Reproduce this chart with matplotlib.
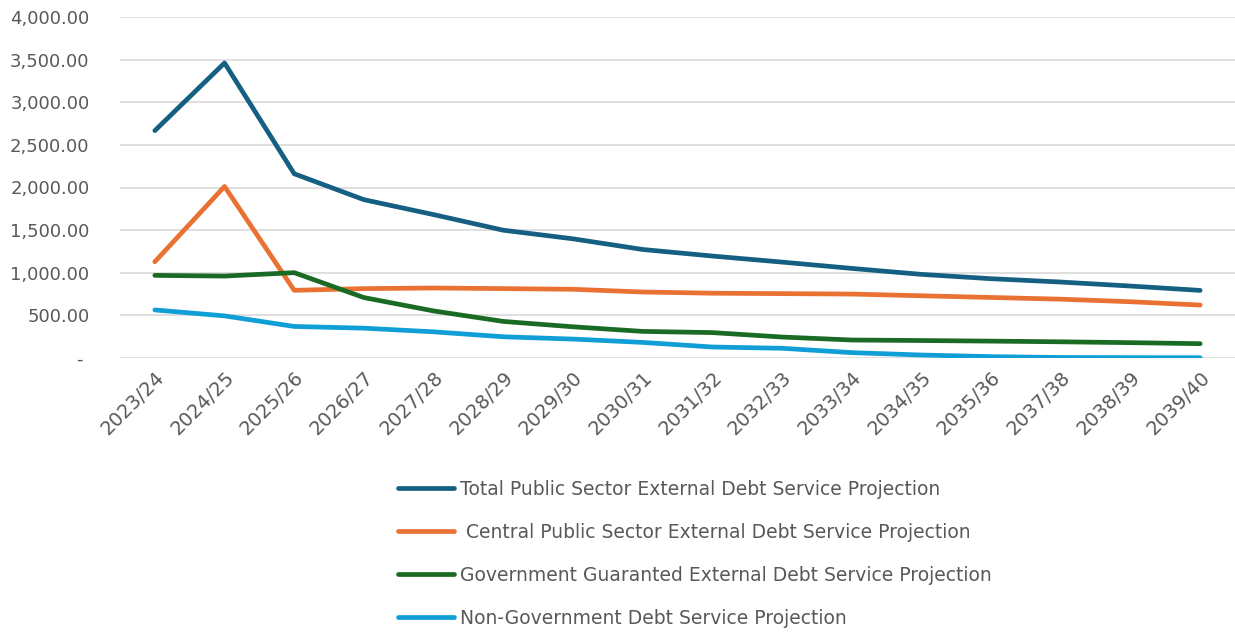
import matplotlib
matplotlib.use("Agg")
import matplotlib.pyplot as plt
from matplotlib.ticker import FuncFormatter

# anos fiscais
years = ["2023/24", "2024/25", "2025/26", "2026/27", "2027/28", "2028/29",
         "2029/30", "2030/31", "2031/32", "2032/33", "2033/34", "2034/35",
         "2035/36", "2037/38", "2038/39", "2039/40"]

total_public = [2667, 3461, 2161, 1857, 1682, 1499, 1398, 1273,
                1196, 1125, 1051, 981, 930, 891, 844, 793]
central_public = [1129, 2012, 794, 814, 821, 814, 806, 774,
                  760, 755, 750, 730, 710, 690, 660, 621]
gov_guaranteed = [969, 961, 1001, 709, 552, 429, 366, 312,
                  298, 246, 211, 205, 198, 190, 180, 168]
non_government = [564, 494, 370, 350, 307, 249, 222, 183,
                  129, 114, 63, 35, 16, 6, 4, 3]

labels = ["Total Public Sector External Debt Service Projection",
          " Central Public Sector External Debt Service Projection",
          "Government Guaranted External Debt Service Projection",
          "Non-Government Debt Service Projection"]
colors = ["#156082", "#E97132", "#196B24", "#0F9ED5"]
series = [total_public, central_public, gov_guaranteed, non_government]

text_color = "#595959"
plt.rcParams["font.family"] = ["DejaVu Sans"]

fig = plt.figure(figsize=(12.35, 6.35), dpi=100)
ax = fig.add_axes([120 / 1235, 1 - 358 / 635, 1115 / 1235, 341 / 635])

x = list(range(len(years)))
for vals, lab, col in zip(series, labels, colors):
    ax.plot(x, vals, color=col, lw=3.4, label=lab,
            solid_capstyle="round", solid_joinstyle="round")

ax.set_xlim(-0.5, len(years) - 0.5)
ax.set_ylim(0, 4000)
ax.set_yticks(range(0, 4001, 500))
ax.yaxis.set_major_formatter(
    FuncFormatter(lambda v, p: "- " if v == 0 else f"{v:,.2f}"))
ax.grid(axis="y", color="#d9d9d9", lw=1.2)
ax.set_axisbelow(True)
for s in ax.spines.values():
    s.set_visible(False)

ax.set_xticks(x)
ax.set_xticklabels(years, rotation=45, ha="right", rotation_mode="anchor")
ax.tick_params(axis="both", length=0, labelcolor=text_color)
ax.tick_params(axis="y", pad=22, labelsize=13)
ax.tick_params(axis="x", pad=7, labelsize=14)

# legenda embaixo, uma série por linha
leg = fig.legend(loc="upper left", bbox_to_anchor=(398 / 1235, 1 - 480 / 635),
                 frameon=False, fontsize=13.5, borderpad=0, borderaxespad=0,
                 handlelength=3.0, handletextpad=0.3, labelspacing=1.28)
for t in leg.get_texts():
    t.set_color(text_color)

fig.savefig("out.png", dpi=100)
